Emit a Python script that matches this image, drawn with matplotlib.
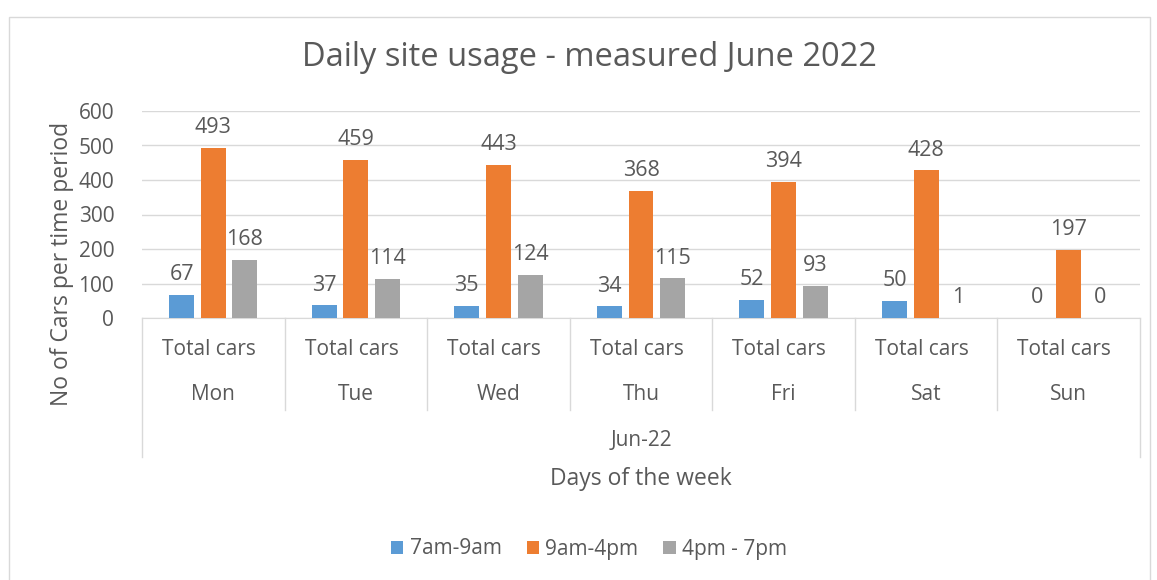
import matplotlib.pyplot as plt
import matplotlib.transforms as mtransforms
from matplotlib.patches import Rectangle
import numpy as np

days = ['Mon', 'Tue', 'Wed', 'Thu', 'Fri', 'Sat', 'Sun']
inner_label = 'Total cars'
outer_label = 'Jun-22'
series_names = ['7am-9am', '9am-4pm', '4pm - 7pm']
early = [67, 37, 35, 34, 52, 50, 0]
day = [493, 459, 443, 368, 394, 428, 197]
late = [168, 114, 124, 115, 93, 1, 0]
colors = ['#5B9BD5', '#ED7D31', '#A5A5A5']

text_col = '#595959'
line_col = '#D9D9D9'

plt.rcParams['font.family'] = ['Open Sans', 'DejaVu Sans']

fig = plt.figure(figsize=(11.57, 5.8), dpi=100)
fig.patches.append(Rectangle((9 / 1157, -0.01), 1141 / 1157, (568 + 1) / 580,
                             transform=fig.transFigure, fill=False,
                             edgecolor=line_col, linewidth=1))

ax = fig.add_axes([142 / 1157, 1 - 318 / 580, 998 / 1157, 207 / 580])

x = np.arange(len(days))
width = 0.175
step = 0.222
for i, (vals, name) in enumerate(zip([early, day, late], series_names)):
    pos = x + (i - 1) * step
    ax.bar(pos, vals, width, color=colors[i], label=name, zorder=3)
    for px, v in zip(pos, vals):
        ax.annotate(str(v), (px, v), xytext=(0, 7), textcoords='offset points',
                    ha='center', va='bottom', fontsize=15.5, color=text_col)

ax.set_xlim(-0.5, len(days) - 0.5)
ax.set_ylim(0, 600)
ax.set_yticks(range(0, 601, 100))
ax.tick_params(axis='y', length=0, labelsize=15, labelcolor=text_col, pad=20)
ax.set_xticks([])
ax.grid(axis='y', color=line_col, linewidth=1, zorder=0)
for s in ['top', 'right', 'left']:
    ax.spines[s].set_visible(False)
ax.spines['bottom'].set_color(line_col)

# multi-level category axis
tr = mtransforms.blended_transform_factory(ax.transData, ax.transAxes)
for b in np.arange(len(days) + 1) - 0.5:
    bottom = -0.671 if b in (-0.5, len(days) - 0.5) else -0.444
    ax.plot([b, b], [0, bottom], transform=tr, color=line_col, lw=1, clip_on=False)
for xi, d in zip(x, days):
    ax.text(xi - 0.03, -0.15, inner_label, transform=tr, ha='center', va='center',
            fontsize=15, color=text_col)
    ax.text(xi, -0.37, d, transform=tr, ha='center', va='center',
            fontsize=15, color=text_col)
ax.text((len(days) - 1) / 2, -0.59, outer_label, transform=tr, ha='center',
        va='center', fontsize=15, color=text_col)

ax.text(0.5, -0.778, 'Days of the week', transform=ax.transAxes, ha='center',
        va='center', fontsize=16.5, color=text_col)
fig.text(62 / 1157, 1 - 264 / 580, 'No of Cars per time period', rotation=90,
         ha='center', va='center', fontsize=16.5, color=text_col)

fig.text(589 / 1157, 1 - 57 / 580, 'Daily site usage - measured June 2022',
         ha='center', va='center', fontsize=23.5, color=text_col)

fig.legend(loc='center', bbox_to_anchor=(589 / 1157, 1 - 549 / 580), ncol=3,
           frameon=False, fontsize=15, labelcolor=text_col, handlelength=0.6,
           handleheight=0.6, handletextpad=0.3, columnspacing=1.2)

fig.savefig('out.png', dpi=100)
